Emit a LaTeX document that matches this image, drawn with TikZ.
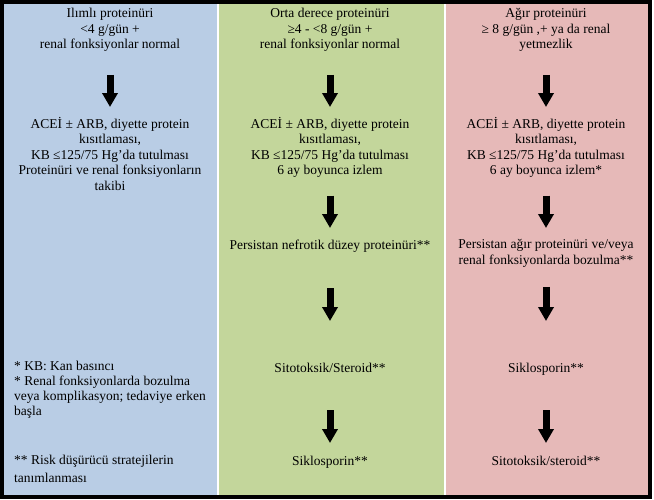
\documentclass[tikz,border=0pt]{standalone}
\usepackage{fontspec}
\setmainfont{Liberation Serif}
\usepackage{xcolor}
\usetikzlibrary{arrows.meta}

\definecolor{colblue}{HTML}{B9CDE5}
\definecolor{colgreen}{HTML}{C3D69B}
\definecolor{colpink}{HTML}{E6B9B8}

\begin{document}
\begin{tikzpicture}[
  x=1pt, y=-1pt,
  txt/.style={anchor=north, align=center, inner sep=0pt, font=\fontsize{13.5}{15.5}\selectfont,
    execute at begin node=\strut, execute at end node=\strut},
  note/.style={anchor=north west, align=left, inner sep=0pt, font=\fontsize{13.5}{15}\selectfont,
    execute at begin node=\strut, execute at end node=\strut},
  arrow/.style 2 args={-{Triangle[length=14pt, width=15pt]}, line width=7pt,
    shorten <=#1, shorten >=#2}
]
\useasboundingbox (0,0) rectangle (654,499);
\fill[white] (0,0) rectangle (654,499);

% columns
\fill[colblue]  (4,4)   rectangle (216.5,495);
\fill[colgreen] (218.5,4) rectangle (444,495);
\fill[colpink]  (446,4) rectangle (648,495);
\draw[line width=4pt] (2,2) rectangle (650,497);

% left column
\node[txt] (mildin) at (110, 8.15) {Ilımlı proteinüri\\<4 g/gün +\\renal fonksiyonlar normal};
\node[txt] (mildtx) at (110, 117.15) {ACEİ ± ARB, diyette protein\\kısıtlaması,\\KB ≤125/75 Hg’da tutulması\\Proteinüri ve renal fonksiyonların\\takibi};
\node[note] (noteA) at (14, 361.15) {* KB: Kan basıncı\\* Renal fonksiyonlarda bozulma\\veya komplikasyon; tedaviye erken\\başla};
\node[note, font=\fontsize{13.5}{18}\selectfont] (noteB) at (14, 455.15) {** Risk düşürücü stratejilerin\\tanımlanması};

% middle column
\node[txt] (modin) at (330, 8.15) {Orta derece proteinüri\\≥4 - <8 g/gün +\\renal fonksiyonlar normal};
\node[txt] (modtx) at (330, 117.15) {ACEİ ± ARB, diyette protein\\kısıtlaması,\\KB ≤125/75 Hg’da tutulması\\6 ay boyunca izlem};
\node[txt] (modpers) at (330, 238.15) {Persistan nefrotik düzey proteinüri**};
\node[txt] (modsito) at (330, 361.15) {Sitotoksik/Steroid**};
\node[txt] (modsik) at (330, 454.15) {Siklosporin**};

% right column
\node[txt] (sevin) at (546, 8.15) {Ağır proteinüri\\≥ 8 g/gün ,+ ya da renal\\yetmezlik};
\node[txt] (sevtx) at (546, 117.15) {ACEİ ± ARB, diyette protein\\kısıtlaması,\\KB ≤125/75 Hg’da tutulması\\6 ay boyunca izlem*};
\node[txt] (sevpers) at (546, 239.15) {Persistan ağır proteinüri ve/veya\\renal fonksiyonlarda bozulma**};
\node[txt] (sevsik) at (546, 361.15) {Siklosporin**};
\node[txt] (sevsito) at (546, 454.15) {Sitotoksik/steroid**};

\draw[arrow={21.35pt}{10.15pt}] (mildin.south) -- (mildtx.north);

\draw[arrow={21.35pt}{10.15pt}] (modin.south) -- (modtx.north);
\draw[arrow={15.85pt}{10.15pt}] (modtx.south) -- (modpers.north);
\draw[arrow={34.35pt}{40.15pt}] (modpers.south) -- (modsito.north);
\draw[arrow={33.35pt}{11.15pt}] (modsito.south) -- (modsik.north);

\draw[arrow={21.35pt}{10.15pt}] (sevin.south) -- (sevtx.north);
\draw[arrow={15.85pt}{11.15pt}] (sevtx.south) -- (sevpers.north);
\draw[arrow={17.85pt}{40.15pt}] (sevpers.south) -- (sevsik.north);
\draw[arrow={33.35pt}{11.15pt}] (sevsik.south) -- (sevsito.north);
\end{tikzpicture}
\end{document}
